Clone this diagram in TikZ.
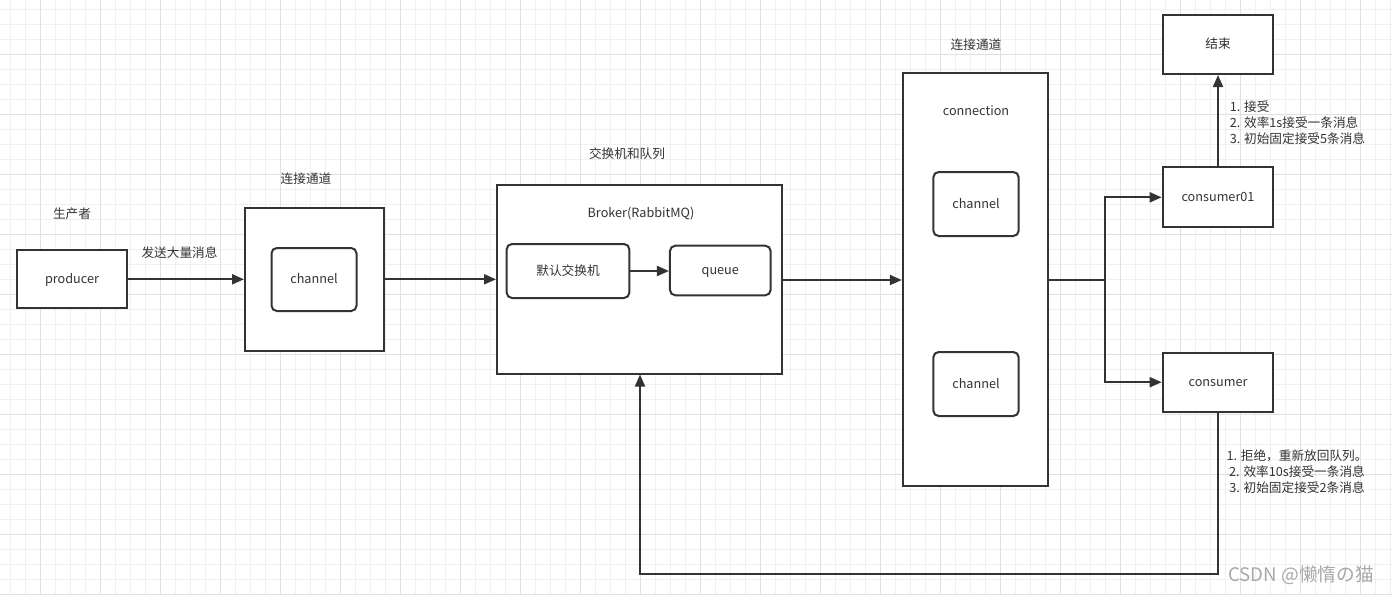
\documentclass[tikz,border=0pt]{standalone}
\usepackage{fontspec}
\setmainfont{Noto Sans CJK SC}
\usetikzlibrary{arrows.meta}
\definecolor{ink}{HTML}{333333}
\definecolor{gminor}{HTML}{F0F0F0}
\definecolor{gmajor}{HTML}{E0E0E0}
\definecolor{wm}{HTML}{A8A8A8}
\tikzset{
  box/.style={draw=ink, line width=1.5pt, fill=white, text=ink, inner sep=0pt,
    text height=8pt, text depth=1.5pt,
    font=\fontsize{9.5pt}{12pt}\selectfont},
  rbox/.style={box, rounded corners=4pt},
  lbl/.style={text=ink, inner sep=0pt, font=\fontsize{9.5pt}{12pt}\selectfont},
  arr/.style={draw=ink, line width=1.5pt, -{Triangle[length=9pt,width=7.5pt]}},
  ln/.style={draw=ink, line width=1.5pt},
}
\begin{document}
\begin{tikzpicture}[x=0.75pt,y=-0.75pt]
\useasboundingbox (0,0) rectangle (1392,594);
\fill[white] (0,0) rectangle (1392,594);
% grid
\foreach \i in {0,...,92} \draw[gminor, line width=0.75pt] ({10.7+15*\i},0) -- ({10.7+15*\i},594);
\foreach \i in {0,...,39} \draw[gminor, line width=0.75pt] (0,{9.3+15*\i}) -- (1392,{9.3+15*\i});
\foreach \i in {0,...,22} \draw[gmajor, line width=0.75pt] ({40.7+60*\i},0) -- ({40.7+60*\i},594);
\foreach \i in {0,...,9} \draw[gmajor, line width=0.75pt] (0,{54.3+60*\i}) -- (1392,{54.3+60*\i});

% nodes
\node[box, minimum width=82.5pt, minimum height=43.5pt] (prod) at (72,279.3) {producer};
\node[box, minimum width=104.25pt, minimum height=107.25pt] (chbox) at (314.5,279.3) {};
\node[rbox, minimum width=63.75pt, minimum height=47.25pt] (ch1) at (314,279.5) {channel};
\node[box, minimum width=213.75pt, minimum height=141.75pt] (broker) at (639.5,279) {};
\node[rbox, minimum width=92pt, minimum height=40.5pt] (ex) at (568,271) {默认交换机};
\node[rbox, minimum width=75.5pt, minimum height=37.2pt] (queue) at (720.3,270.5) {queue};
\node[box, minimum width=108.75pt, minimum height=310pt] (conn) at (975.3,279.3) {};
\node[rbox, minimum width=64pt, minimum height=48pt] (ch2) at (976,204) {channel};
\node[rbox, minimum width=64pt, minimum height=48pt] (ch3) at (976,384) {channel};
\node[box, minimum width=83pt, minimum height=44.25pt] (end) at (1218,44.5) {结束};
\node[box, minimum width=83pt, minimum height=45pt] (c01) at (1218,197.3) {consumer01};
\node[box, minimum width=83pt, minimum height=44.25pt] (cons) at (1218,382.2) {consumer};

% labels
\node[lbl] (l1) at (72,214) {生产者};
\node[lbl] (l2) at (306,179) {连接通道};
\node[lbl] (l3) at (627,154) {交换机和队列};
\node[lbl] (l4) at (641,214) {Broker(RabbitMQ)};
\node[lbl] (l5) at (976,45) {连接通道};
\node[lbl] (l6) at (976,111) {connection};
\node[lbl] (l7) at (179.5,253) {发送大量消息};
\node[lbl, anchor=west, align=left] (l8) at (1229.5,122.5) {1. 接受\\2. 效率1s接受一条消息\\3. 初始固定接受5条消息};
\node[lbl, align=center] (l9) at (1297,472) {1. 拒绝，重新放回队列。\\2. 效率10s接受一条消息\\3. 初始固定接受2条消息};
\node[text=wm, inner sep=0pt, font=\fontsize{14pt}{16pt}\selectfont] (wmk) at (1301,575) {CSDN @懒惰の猫};

% connectors
\draw[arr] (prod.east) -- (chbox.west);
\draw[arr] (chbox.east) -- (chbox.east -| broker.west);
\draw[arr] (ex.east) -- (ex.east -| queue.west);
\draw[arr] (broker.east |- 0,280) -- (conn.west |- 0,280);
\coordinate (split) at (1105,280);
\draw[ln] (conn.east |- split) -- (split);
\draw[arr] (split) |- (c01.west);
\draw[arr] (split) |- (cons.west);
\draw[arr] (c01.north) -- (end.south);
\coordinate (ret) at (640,574.3);
\draw[arr] (cons.south) |- (ret) -- (ret |- broker.south);
\end{tikzpicture}
\end{document}
